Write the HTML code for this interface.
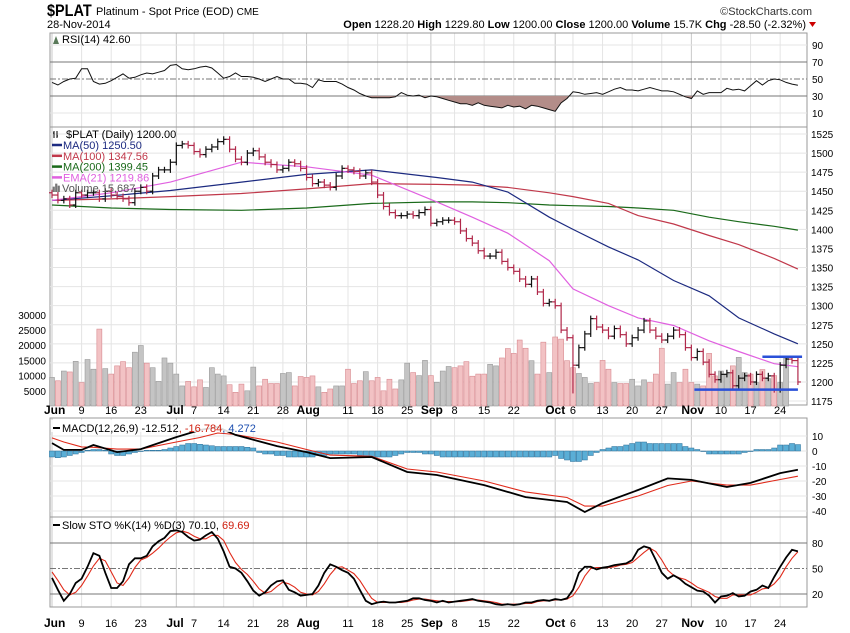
<!DOCTYPE html>
<html><head><meta charset="utf-8">
<style>
html,body{margin:0;padding:0;background:#fff;}
svg{display:block;font-family:"Liberation Sans",sans-serif;}
</style></head>
<body>
<svg id="chart" width="850" height="633" viewBox="0 0 850 633" xmlns="http://www.w3.org/2000/svg">
<text x="47" y="16" font-size="17" font-weight="bold" transform="scale(0.85,1)" transform-origin="47 16">$PLAT</text>
<text x="96" y="15" font-size="11">Platinum - Spot Price (EOD) <tspan font-size="10">CME</tspan></text>
<text x="47" y="28" font-size="11">28-Nov-2014</text>
<text x="812" y="15" font-size="11" text-anchor="end" fill="#333">©StockCharts.com</text>
<text x="806" y="28" font-size="11" text-anchor="end"><tspan font-weight="bold">Open</tspan> 1228.20 <tspan font-weight="bold">High</tspan> 1229.80 <tspan font-weight="bold">Low</tspan> 1200.00 <tspan font-weight="bold">Close</tspan> 1200.00 <tspan font-weight="bold">Volume</tspan> 15.7K <tspan font-weight="bold">Chg</tspan> -28.50 (-2.32%)</text>
<polygon points="809,22 816,22 812.5,27" fill="#c00"/>
<g id="layer"></g>
</svg>
<script>
// ===== data =====
const monthLabels = ["Jun","Jul","Aug","Sep","Oct","Nov"];
const monthIdx = [0,21,43,64,85,108];
const dayLabels = ["9","16","23","7","14","21","28","11","18","25","8","15","22","6","13","20","27","10","17","24"];
const dayIdx = [5,10,15,24,29,34,39,50,55,60,68,73,78,88,93,98,103,113,118,123];
const closes = [1445,1438,1440,1432,1448, 1445,1448,1448,1440,1450, 1445,1443,1440,1435,1450, 1455,1450,1470,1478,1478, 1488,
 1510,1512,1510, 1502,1498,1505,1508,1515, 1518,1505,1492,1488,1500, 1503,1495,1488,1485,1478, 1480,1488,1486,1480,1468,
 1460,1462,1458,1455,1470, 1480,1478,1476,1470,1474, 1462,1445,1430,1422,1418, 1418,1420,1418,1422,1426,
 1408,1410,1412,1412, 1410,1398,1388,1382,1372, 1365,1365,1370,1358,1350, 1345,1335,1328,1335,1318,
 1303,1305,1300,1268,1258, 1222,1245,1263,1283,1272, 1268,1260,1270,1262,1250, 1258,1268,1280,1268,1260,
 1255,1260,1268,1262,1245, 1232,1240,1226,1210,1203, 1210,1212,1195,1205,1208, 1200,1210,1205,1208,1190,
 1222,1230,1228,1200];
const volumes = [9.4,8.3,11.5,11.2,14.7,7.7,15.3,12.1,25.3,12.3,10.5,13.2,14.6,12.6,17.7,19.9,14.1,12.6,8.1,15.8,14.1,10.5,6.6,8.1,6.3,8.6,6.1,12.6,10.5,9.9,7.0,4.5,7.2,5.0,12.8,6.6,8.8,7.4,7.4,10.7,11,6.6,9.7,9.4,9.9,6.3,4.5,5.6,6.6,6.6,12.1,7.4,8.3,11.3,8.3,9.4,5,8.8,5.6,8.6,14.1,11,10,15,
 10,7.8,11.5,13,12.6,13.2,14.6,9.8,10.5,10.5,13.7,13.2,15.8,18.9,17.3,21.7,19,14.9,10.5,21,11,22.7,22,14.9,12.6,10.7,9.4,7.4,7.7,15,12.1,7.7,7.4,7.4,8.8,6.6,8.6,7.7,10.5,19,7.2,11,7.7,12.1,7.7,7.2,6.6,17.3,9.9,11.5,10.5,13.2,16,11,10.5,7.7,12,9,10,7.7,15.7];
const maIdx = [0,10,20,32,43,54,65,71,77,84,88,94,99,105,111,116,122,126];
const ma50 = [1438,1444,1451,1462,1472,1478,1468,1462,1449,1416,1400,1377,1360,1333,1313,1284,1263,1250];
const ma100 = [1438,1440,1443,1447,1453,1460,1459,1458,1455,1448,1443,1434,1418,1407,1392,1380,1362,1348];
const ma200 = [1432,1428,1426,1425,1428,1434,1436,1436,1435,1432,1431,1430,1428,1425,1416,1410,1404,1399];
const ema21 = [1438,1448,1462,1488,1482,1471,1436,1416,1395,1359,1322,1300,1284,1274,1254,1240,1224,1220];
const rsi = [46,43,47,50,51,62,62,47,44,45,48,52,56,51,52,55,57,56,58,60,66,67,62,61,62,64,65,63,57,51,53,57,53,53,52,50,47,50,53,50,50,45,45,44,40,49,47,47,47,44,40,37,33,30,28,28,28,28,29,34,31,30,31,28,30,29,27,25,23,21,21,19,22,19,18,17,16,19,17,18,15,19,18,16,14,12,22,27,35,34,32,33,34,32,35,38,40,37,37,36,38,40,38,36,36,35,32,29,27,36,32,34,34,34,39,37,38,36,42,48,43,48,50,49,46,44,42.6];
const macdIdx = [0,2,5,7,11,15,21,25,28,31,38,43,47,54,60,65,73,80,87,90,93,99,104,108,114,118,123,126];
const macdLine = [5.3,0.7,0.7,4,-0.7,1.3,9.3,14,16,10.7,3.3,-0.7,-4.7,-4,-14,-16,-22.7,-30.7,-34,-40.7,-34.7,-26,-18.3,-19.3,-24,-21.3,-14.7,-12.5];
const signalLine = [8.7,6,2.7,2.5,1.3,1.3,6,9,12,11,6,1,-2.7,-3.5,-12,-14,-20,-27.3,-31,-36.7,-36.7,-30,-23,-20,-22.7,-22.7,-19,-16.8];
const macdHist = [-4,-4.5,-4,-3,-2,-1,0.5,1,1,0.5,-2,-3,-3,-2,-1,0,0.5,0.5,0.5,1,2,3,4,5,5,4.5,4,3.5,3,3,3,3,3,2.5,2,-1,-2,-2,-3,-3,-4,-4,-4,-4,-4,-3,-3,-2,-2,-2,-2,-2,-3,-4,-4,-4,-4,-4,-3,-2,-1,-1,-1,-2,-2,-3,-4,-4,-4,-4,-4,-4,-4,-4,-4,-4,-4,-4,-4,-4,-4,-4,-4,-4,-4,-3,-5,-6,-7,-7,-6,-3,-1,1,2,3,3,4,5,6,6,5,5,5,5,5,5,3,2,1,0,-2,-2,-2,-2,-2,-2,-1,0,1,1,1,2,4,4,5,4.3];
const stoK = [39,25,12,20,33,38,52,68,65,45,27,27,35,55,62,62,65,76,82,86,94,95,93,87,83,84,89,93,85,70,52,50,45,35,24,18,22,30,35,36,25,22,18,19,20,30,45,55,52,48,45,38,25,12,8,10,11,10,10,11,12,15,15,13,12,10,12,10,11,12,13,14,12,11,10,8,7,8,7,8,10,10,12,13,12,14,13,15,25,45,52,52,49,51,52,54,55,56,60,72,76,74,60,45,38,42,38,32,28,24,23,18,10,17,18,21,17,18,23,25,30,27,40,52,63,72,70.1];
const stoD = [46,36,25,19,22,30,41,53,62,59,46,33,30,39,51,60,63,68,74,81,87,92,94,92,88,85,85,89,89,83,69,57,49,43,35,26,21,23,29,34,32,28,22,20,19,23,32,43,51,52,48,44,36,25,15,10,10,10,10,10,11,13,14,14,13,12,11,11,11,11,12,13,13,12,11,10,8,8,8,8,9,9,11,12,12,13,13,14,18,28,41,50,51,51,51,52,54,55,57,63,69,74,70,60,48,42,39,37,33,28,25,22,17,15,15,19,19,19,19,22,26,27,32,40,52,62,69.69];

// ===== geometry =====
const X0 = 52, DX = 5.92, L = 50, R = 807;
const xAt = i => X0 + i * DX;
const yRsi = v => 79 - (v - 50) * 0.85;
const yPrice = v => 134 + (1525 - v) * 0.763;
const yVol = v => 406 - v * 3.04;
const yMacd = v => 451 - v * 1.5;
const ySto = v => 594 - (v - 20) * 0.85;

const NS = "http://www.w3.org/2000/svg";
const layer = document.getElementById("layer");
function mk(tag, attrs, parent) {
  const e = document.createElementNS(NS, tag);
  for (const k in attrs) e.setAttribute(k, attrs[k]);
  (parent || layer).appendChild(e);
  return e;
}
function txt(s, attrs, parent) { const t = mk("text", attrs, parent); t.textContent = s; return t; }
function pts(idx, vals, yf) { return idx.map((i, k) => xAt(i).toFixed(1) + "," + yf(vals[k]).toFixed(1)).join(" "); }
const seq = n => Array.from({length: n}, (_, i) => i);

const panels = [
  {name: "rsi-panel", top: 33, bot: 127},
  {name: "price-panel", top: 127, bot: 405},
  {name: "macd-panel", top: 418, bot: 517},
  {name: "sto-panel", top: 517, bot: 607}
];
const allIdx = monthIdx.concat(dayIdx);

// panel grids
panels.forEach(p => {
  const g = mk("g", {});
  
  
  allIdx.forEach(i => mk("line", {x1: xAt(i), x2: xAt(i), y1: p.top, y2: p.bot, stroke: monthIdx.includes(i) ? "#c8c8c8" : "#e4e4e4", "stroke-width": 1}, g));
  mk("rect", {x: L, y: p.top, width: R - L, height: p.bot - p.top, fill: "none", stroke: "#999"}, g);
  p.g = g;
});

// ---- RSI ----
const rsiG = panels[0].g;
[90, 10].forEach(v => mk("line", {x1: L, x2: R, y1: yRsi(v), y2: yRsi(v), stroke: "#e4e4e4"}, rsiG));
[70, 30].forEach(v => mk("line", {x1: L, x2: R, y1: yRsi(v), y2: yRsi(v), stroke: "#777"}, rsiG));
mk("line", {x1: L, x2: R, y1: yRsi(50), y2: yRsi(50), stroke: "#777", "stroke-dasharray": "6,2,2,2"}, rsiG);
[90, 70, 50, 30, 10].forEach(v => txt(String(v), {x: 812, y: yRsi(v) + 4, "font-size": 10}, rsiG));
const defs = mk("defs", {});
const cp = mk("clipPath", {id: "below30"}, defs);
mk("rect", {x: L, y: yRsi(30), width: R - L, height: 127 - yRsi(30)}, cp);
const rsiPts = pts(seq(rsi.length), rsi, yRsi);
const rsiFill = mk("polygon", {points: xAt(0) + "," + yRsi(30) + " " + rsiPts + " " + xAt(rsi.length - 1) + "," + yRsi(30), fill: "#b38d89", "clip-path": "url(#below30)"}, rsiG);


const rsiLine = mk("polyline", {points: rsiPts, fill: "none", stroke: "#111", "stroke-width": 1}, rsiG);


txt("RSI(14) 42.60", {x: 62, y: 43, "font-size": 11}, rsiG);
mk("polygon", {points: "53,44 56,36 59,44", fill: "#5a7a5a"}, rsiG);

// ---- price panel ----
const pg = panels[1].g;
const priceTicks = [1525,1500,1475,1450,1425,1400,1375,1350,1325,1300,1275,1250,1225,1200,1175];
priceTicks.forEach(v => {
  mk("line", {x1: L, x2: R, y1: yPrice(v), y2: yPrice(v), stroke: "#e4e4e4"}, pg);
  txt(String(v), {x: 811, y: yPrice(v) + 4, "font-size": 10}, pg);
});
const volTicks = [30000,25000,20000,15000,10000,5000];
volTicks.forEach(v => txt(String(v), {x: 46, y: yVol(v / 1000) + 4, "font-size": 10, "text-anchor": "end"}, pg));
// volume bars
volumes.forEach((v, i) => {
  const down = i > 0 && closes[i] < closes[i - 1];
  const b = mk("rect", {x: xAt(i) - 2.5, y: yVol(v), width: 5, height: 406 - yVol(v), fill: down ? "#f2c2c4" : "#c4c4c4", stroke: down ? "#d88a90" : "#9a9a9a", "stroke-width": 0.6}, pg);
  
  
});
// MAs
[[ma200, "#1a6a1a", "ma200-line"], [ma100, "#c0384a", "ma100-line"], [ma50, "#1c2a80", "ma50-line"], [ema21, "#e060e0", "ema21-line"]].forEach(([arr, col, nm]) => {
  const l = mk("polyline", {points: pts(maIdx, arr, yPrice), fill: "none", stroke: col, "stroke-width": 1.2}, pg);
  
  
});
// OHLC bars
closes.forEach((c, i) => {
  const o = i > 0 ? closes[i - 1] : c + 3;
  let hi = Math.max(o, c) + 4, lo = Math.min(o, c) - 4;
  if (i === 88) lo = 1185;
  const col = c < o ? "#b0284a" : "#111";
  const x = xAt(i);
  const g = mk("g", {stroke: col, "stroke-width": 1.2}, pg);
  
  
  mk("line", {x1: x, x2: x, y1: yPrice(hi), y2: yPrice(lo)}, g);
  mk("line", {x1: x - 3, x2: x, y1: yPrice(o), y2: yPrice(o)}, g);
  mk("line", {x1: x, x2: x + 3, y1: yPrice(c), y2: yPrice(c)}, g);
});
// support/resistance lines
const resist = mk("line", {x1: xAt(120), x2: xAt(126.7), y1: yPrice(1233), y2: yPrice(1233), stroke: "#2a50d8", "stroke-width": 2.5}, pg);


const supp = mk("line", {x1: xAt(108.5), x2: xAt(126), y1: yPrice(1190), y2: yPrice(1190), stroke: "#2a50d8", "stroke-width": 2.5}, pg);


// legend
const legend = mk("g", {"font-size": 11}, pg);


txt("$PLAT (Daily) 1200.00", {x: 66, y: 138}, legend);
mk("path", {d: "M54,131v7M57,131v7M53,133h1M57,136h1", stroke: "#000", "stroke-width": 1}, legend);
[["MA(50) 1250.50", "#1c2a80"], ["MA(100) 1347.56", "#c0384a"], ["MA(200) 1399.45", "#1a6a1a"], ["EMA(21) 1219.86", "#e060e0"]].forEach(([s, c], k) => {
  const y = 149 + k * 10.8;
  mk("line", {x1: 52, x2: 62, y1: y - 4, y2: y - 4, stroke: c, "stroke-width": 2.5}, legend);
  txt(s, {x: 63, y: y, fill: c}, legend);
});
mk("path", {d: "M53,192v-5h1.5v5M55.5,192v-8h1.5v8M58,192v-6h1.5v6", fill: "#777", stroke: "#777", "stroke-width": 0.7}, legend);
txt("Volume 15,687", {x: 62, y: 192, fill: "#555"}, legend);

// ---- MACD ----
const mg = panels[2].g;
[10, 0, -10, -20, -30, -40].forEach(v => {
  mk("line", {x1: L, x2: R, y1: yMacd(v), y2: yMacd(v), stroke: "#e4e4e4"}, mg);
  txt(String(v), {x: 812, y: yMacd(v) + 4, "font-size": 10}, mg);
});
const mclip = mk("clipPath", {id: "macdclip"}, defs);
mk("rect", {x: L, y: 418, width: R - L, height: 99}, mclip);
macdHist.forEach((v, i) => {
  const y0 = yMacd(0), y1 = yMacd(v);
  const h = mk("rect", {x: xAt(i) - 2.6, y: Math.min(y0, y1), width: 5.2, height: Math.max(0.5, Math.abs(y1 - y0)), fill: "#5aaed6", stroke: "#2a6e98", "stroke-width": 0.5}, mg);
  
  
});
const sigL = mk("polyline", {points: pts(macdIdx, signalLine, yMacd), fill: "none", stroke: "#e02a1a", "stroke-width": 1.1, "clip-path": "url(#macdclip)"}, mg);


const macL = mk("polyline", {points: pts(macdIdx, macdLine, yMacd), fill: "none", stroke: "#000", "stroke-width": 1.8, "clip-path": "url(#macdclip)"}, mg);


mk("rect", {x: 51, y: 420, width: 245, height: 12, fill: "#fff", opacity: 0.85}, mg);
mk("line", {x1: 53, x2: 60, y1: 428, y2: 428, stroke: "#000", "stroke-width": 2}, mg);
const mt = txt("", {x: 62, y: 432, "font-size": 11}, mg);
mt.innerHTML = 'MACD(12,26,9) -12.512<tspan fill="#d02010">, -16.784</tspan><tspan fill="#1d4fb0">, 4.272</tspan>';

// ---- STO ----
const sg = panels[3].g;
[80, 20].forEach(v => mk("line", {x1: L, x2: R, y1: ySto(v), y2: ySto(v), stroke: "#777"}, sg));
mk("line", {x1: L, x2: R, y1: ySto(50), y2: ySto(50), stroke: "#777", "stroke-dasharray": "6,2,2,2"}, sg);
[80, 50, 20].forEach(v => txt(String(v), {x: 812, y: ySto(v) + 4, "font-size": 10}, sg));
const dL = mk("polyline", {points: pts(seq(stoD.length), stoD, ySto), fill: "none", stroke: "#e02a1a", "stroke-width": 1.1}, sg);


const kL = mk("polyline", {points: pts(seq(stoK.length), stoK, ySto), fill: "none", stroke: "#000", "stroke-width": 1.8}, sg);


mk("line", {x1: 53, x2: 60, y1: 525, y2: 525, stroke: "#000", "stroke-width": 2}, sg);
const st = txt("", {x: 62, y: 529, "font-size": 11}, sg);
st.innerHTML = 'Slow STO %K(14) %D(3) 70.10, <tspan fill="#d02010">69.69</tspan>';

// ---- date axes ----
[414, 627].forEach((y, a) => {
  const ax = mk("g", {"font-size": 11});
  
  
  monthLabels.forEach((m, k) => txt(m, {x: xAt(monthIdx[k]) - (k === 0 ? 8 : 10), y: y, "font-weight": "bold", "font-size": 12}, ax));
  dayLabels.forEach((d, k) => txt(d, {x: xAt(dayIdx[k]), y: y, "text-anchor": "middle"}, ax));
});
</script>
</body></html>
